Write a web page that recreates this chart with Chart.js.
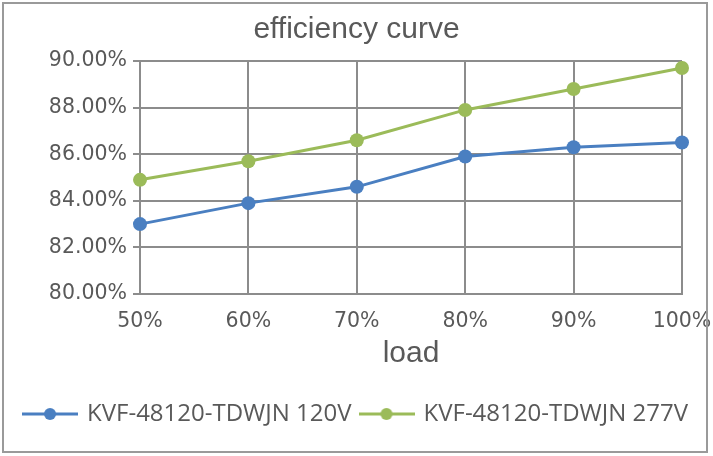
<!DOCTYPE html>
<html>
<head>
<meta charset="utf-8">
<script src="https://cdn.jsdelivr.net/npm/chart.js@4/dist/chart.umd.min.js"></script>
<style>
html,body{margin:0;padding:0;background:#fff;}
#wrap{position:relative;width:713px;height:456px;}
</style>
</head>
<body>
<div id="wrap"><canvas id="c" width="713" height="456"></canvas></div>
<script>
const categories = ['50%', '60%', '70%', '80%', '90%', '100%'];
const series120V = [83.0, 83.9, 84.6, 85.9, 86.3, 86.5];
const series277V = [84.9, 85.7, 86.6, 87.9, 88.8, 89.7];
const seriesNames = ['KVF-48120-TDWJN 120V', 'KVF-48120-TDWJN 277V'];
const yTicks = [80, 82, 84, 86, 88, 90];

const BLUE = '#4a7fc1';
const GREEN = '#9bbb59';
const GRID = '#8c8c8c';
const TEXT = '#595959';

function legendIcon(color) {
  const cv = document.createElement('canvas');
  cv.width = 56; cv.height = 16;
  const g = cv.getContext('2d');
  g.strokeStyle = color; g.lineWidth = 3;
  g.beginPath(); g.moveTo(0, 8); g.lineTo(56, 8); g.stroke();
  g.fillStyle = color;
  g.beginPath(); g.arc(28, 8, 6, 0, Math.PI * 2); g.fill();
  return cv;
}
const icons = [legendIcon(BLUE), legendIcon(GREEN)];

const frame = {
  id: 'frame',
  afterDraw(chart) {
    const ctx = chart.ctx;
    ctx.save();
    ctx.strokeStyle = '#9a9a9a';
    ctx.lineWidth = 2;
    ctx.strokeRect(3, 3, 704, 449);
    ctx.restore();
  }
};

new Chart(document.getElementById('c'), {
  type: 'line',
  data: {
    labels: categories,
    datasets: [
      { label: seriesNames[0], data: series120V, borderColor: BLUE, backgroundColor: BLUE,
        pointBackgroundColor: BLUE, pointBorderColor: BLUE, borderWidth: 3, pointRadius: 7, pointBorderWidth: 0, tension: 0 },
      { label: seriesNames[1], data: series277V, borderColor: GREEN, backgroundColor: GREEN,
        pointBackgroundColor: GREEN, pointBorderColor: GREEN, borderWidth: 3, pointRadius: 7, pointBorderWidth: 0, tension: 0 }
    ]
  },
  options: {
    responsive: false,
    animation: false,
    layout: { padding: { left: 0, right: 0, top: 0, bottom: 20 } },
    plugins: {
      title: {
        display: true, text: 'efficiency curve', color: TEXT,
        font: { family: 'Liberation Sans', size: 30, weight: 'normal' },
        padding: { top: 12, bottom: 13 }
      },
      legend: {
        position: 'bottom',
        labels: {
          color: TEXT,
          font: { family: 'Open Sans', size: 24 },
          usePointStyle: true,
          pointStyleWidth: 50,
          padding: 10,
          generateLabels(chart) {
            return chart.data.datasets.map((ds, i) => ({
              text: ds.label, fillStyle: ds.borderColor, strokeStyle: ds.borderColor,
              pointStyle: icons[i], datasetIndex: i, hidden: false, lineWidth: 0, fontColor: TEXT
            }));
          }
        }
      },
      tooltip: { enabled: false }
    },
    scales: {
      x: {
        type: 'category', offset: false,
        afterFit(scale) { scale.paddingRight = 31; scale.height = 98; },
        grid: { color: GRID, lineWidth: 2, drawTicks: false, offset: false },
        border: { color: GRID, width: 2 },
        ticks: { color: TEXT, font: { family: 'DejaVu Sans', size: 20.5 }, padding: 15, maxRotation: 0 },
        title: { display: true, text: 'load', color: TEXT,
          font: { family: 'Liberation Sans', size: 30, lineHeight: 1.1 }, padding: { top: 0, bottom: 22 } }
      },
      y: {
        min: 80, max: 90,
        afterFit(scale) { scale.width = 140; },
        afterBuildTicks(scale) { scale.ticks = yTicks.map(v => ({ value: v })); },
        grid: { color: GRID, lineWidth: 2, tickLength: 7 },
        border: { color: GRID, width: 2 },
        ticks: { color: TEXT, font: { family: 'DejaVu Sans', size: 20.5 }, padding: 6,
          callback: v => Number(v).toFixed(2) + '%' }
      }
    }
  },
  plugins: [frame]
});
</script>
</body>
</html>
